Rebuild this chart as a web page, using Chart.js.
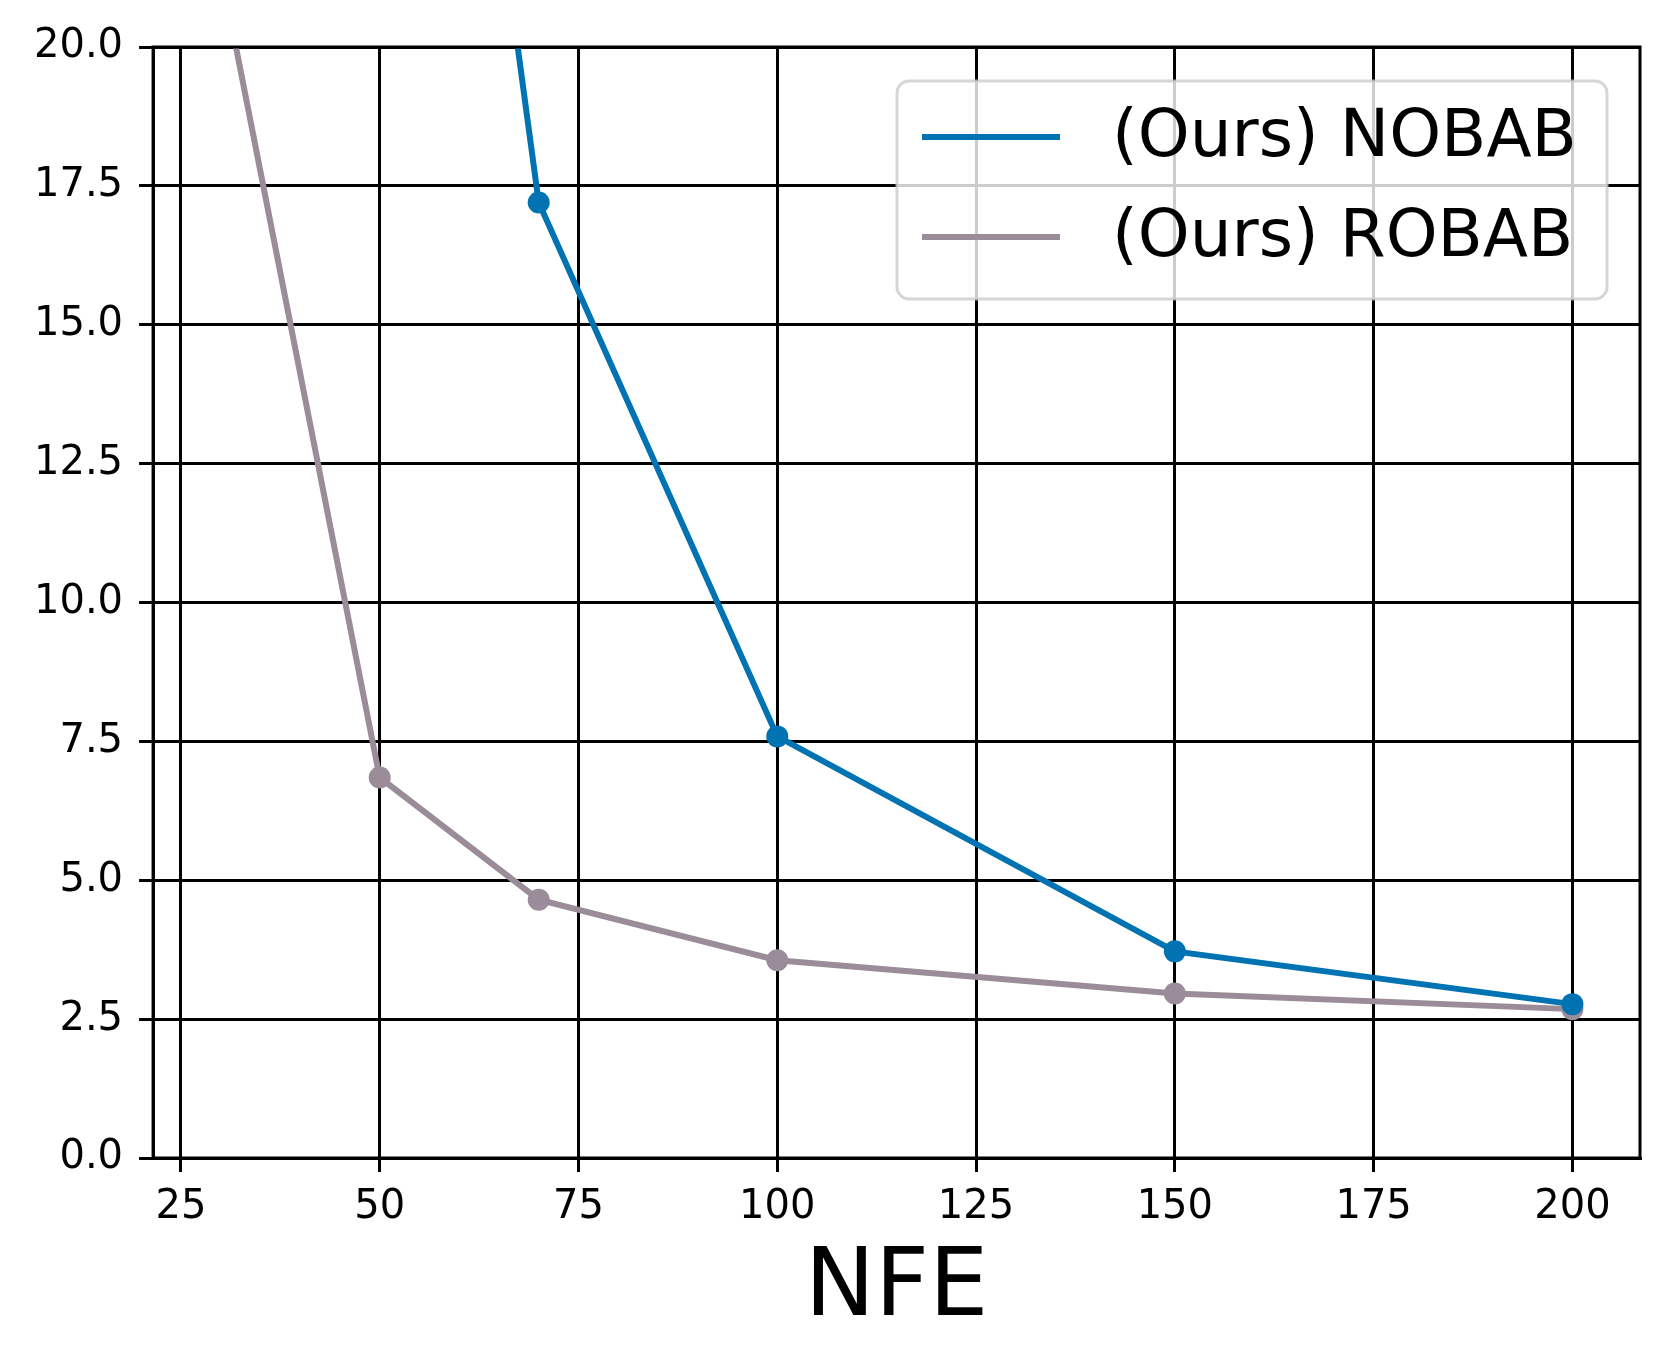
<!doctype html>
<html lang="en">
  <head>
    <meta charset="utf-8">
    <title>NFE</title>
    <style>
      html, body { margin: 0; padding: 0; background: #fff; }
      #wrap { width: 1669px; height: 1370px; }
    </style>
  </head>
  <body>
    <div id="wrap"><canvas id="myChart" width="1669" height="1370"></canvas></div>

    <script src="https://cdn.jsdelivr.net/npm/chart.js@4/dist/chart.umd.min.js"></script>
    <script>
        // values (points above 20 are cut off by the axis)
        var nobab_x = [50, 70, 100, 150, 200]
        var nobab_y = [38.4, 17.2, 7.59, 3.72, 2.77]
        var robab_x = [30, 50, 70, 100, 150, 200]
        var robab_y = [21.4, 6.85, 4.65, 3.56, 2.96, 2.68]
        var x_ticks = [25, 50, 75, 100, 125, 150, 175, 200]
        var labels = ['(Ours) NOBAB', '(Ours) ROBAB']
        var colors = ['#0173b2', '#9a8c98']

        var font = "'DejaVu Sans', sans-serif"

        function pairs(xs, ys){
            return xs.map(function(x, i){ return {x: x, y: ys[i]} })
        }

        // matplotlib style legend inside the axes, upper right
        var legendBox = {
            id: 'legendBox',
            afterDraw: function(chart){
                var ctx = chart.ctx
                var area = chart.chartArea
                var right = area.right - 33
                var top = area.top + 34
                var w = 710, h = 218
                var left = right - w
                ctx.save()
                ctx.beginPath()
                ctx.roundRect(left, top, w, h, 12)
                ctx.fillStyle = 'rgba(255,255,255,0.8)'
                ctx.fill()
                ctx.lineWidth = 3
                ctx.strokeStyle = 'rgba(204,204,204,0.8)'
                ctx.stroke()
                ctx.font = '66px ' + font
                ctx.textBaseline = 'middle'
                chart.data.datasets.forEach(function(ds, i){
                    var y = top + 56 + i * 100
                    ctx.beginPath()
                    ctx.moveTo(left + 25, y)
                    ctx.lineTo(left + 163, y)
                    ctx.lineWidth = 6
                    ctx.strokeStyle = ds.borderColor
                    ctx.stroke()
                    ctx.fillStyle = '#000'
                    ctx.fillText(ds.label, left + 215, y + 2)
                })
                ctx.restore()
            }
        }

        // top and right spines
        var frame = {
            id: 'frame',
            afterDatasetsDraw: function(chart){
                var ctx = chart.ctx
                var a = chart.chartArea
                ctx.save()
                ctx.lineWidth = 3
                ctx.strokeStyle = '#000'
                ctx.strokeRect(a.left, a.top, a.right - a.left, a.bottom - a.top)
                ctx.restore()
            }
        }

        var ctx = document.getElementById('myChart').getContext('2d');
        var chart = new Chart(ctx, {
            type: 'line',
            data: {
                datasets: [{
                    label: labels[0],
                    data: pairs(nobab_x, nobab_y),
                    borderColor: colors[0],
                    backgroundColor: colors[0],
                    pointBackgroundColor: colors[0],
                    borderWidth: 6,
                    pointRadius: 11,
                    pointBorderWidth: 0
                },
                {
                    label: labels[1],
                    data: pairs(robab_x, robab_y),
                    borderColor: colors[1],
                    backgroundColor: colors[1],
                    pointBackgroundColor: colors[1],
                    borderWidth: 6,
                    pointRadius: 11,
                    pointBorderWidth: 0
                }]
            },
            options: {
                responsive: false,
                animation: false,
                events: [],
                layout: { padding: { left: 18, right: 29, top: 47, bottom: 32 } },
                plugins: {
                    legend: { display: false },
                    tooltip: { enabled: false }
                },
                scales: {
                    x: {
                        type: 'linear',
                        min: 21.5,
                        max: 208.5,
                        z: 1,
                        afterBuildTicks: function(scale){
                            scale.ticks = x_ticks.map(function(v){ return {value: v} })
                        },
                        ticks: {
                            color: '#000',
                            font: { family: font, size: 40 },
                            padding: 12,
                            maxRotation: 0,
                            autoSkip: false
                        },
                        grid: { color: '#000', lineWidth: 3, tickLength: 14, tickWidth: 3, tickColor: '#000' },
                        border: { display: true, color: '#000', width: 3 },
                        title: {
                            display: true,
                            text: 'NFE',
                            color: '#000',
                            font: { family: font, size: 94, lineHeight: 1 },
                            padding: { top: 0, bottom: 0 }
                        }
                    },
                    y: {
                        min: 0,
                        max: 20,
                        z: 1,
                        ticks: {
                            stepSize: 2.5,
                            color: '#000',
                            font: { family: font, size: 40 },
                            padding: 16,
                            callback: function(v){ return Number(v).toFixed(1) }
                        },
                        grid: { color: '#000', lineWidth: 3, tickLength: 14, tickWidth: 3, tickColor: '#000' },
                        border: { display: true, color: '#000', width: 3 }
                    }
                }
            },
            plugins: [frame, legendBox]
        });
    </script>
  </body>
</html>
